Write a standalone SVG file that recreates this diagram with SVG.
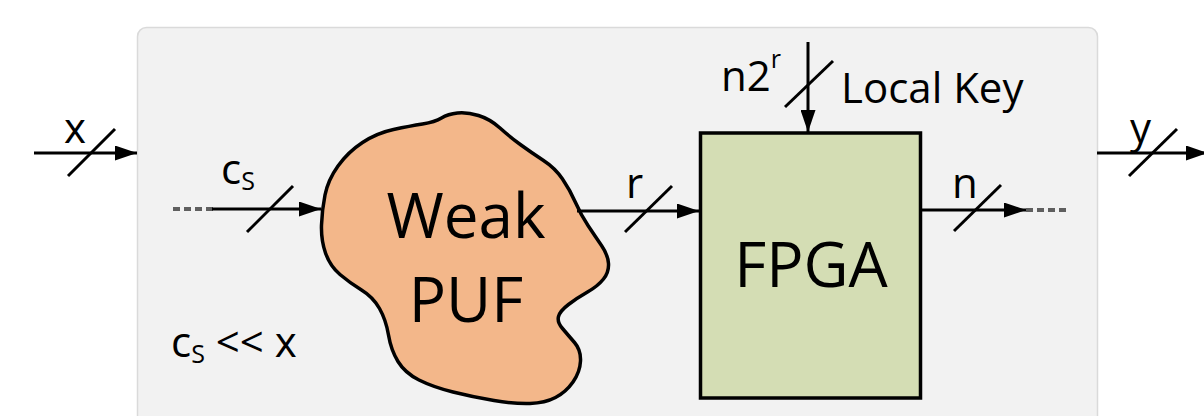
<svg xmlns="http://www.w3.org/2000/svg" width="1204" height="416" viewBox="0 0 1204 416">
<style>
text{font-family:"Open Sans","Liberation Sans",sans-serif;fill:#000}
.lbl{font-size:42px}
.big{font-size:62px}
.sub{font-size:25px}
.wire{stroke:#000;stroke-width:3;fill:none}
.dot{stroke:#5f5f5f;stroke-width:4;stroke-dasharray:7 4;fill:none}
</style>
<defs>
<marker id="ah" markerUnits="userSpaceOnUse" markerWidth="23" markerHeight="15" refX="22" refY="7.5" orient="auto">
<path d="M0,0 L22,7.5 L0,15 Z" fill="#000"/>
</marker>
</defs>
<rect id="panel" x="137.5" y="27.5" width="960" height="420" rx="9" fill="#f2f2f2" stroke="#dadada" stroke-width="1.5"/>
<g id="puf">
<path d="M 321.5,225 Q 322,210 325,195 Q 328,180 338,166 Q 348,152 362.5,142.5 Q 377,133 393.5,129.5 Q 410,126 422.5,124 Q 435,122 441.5,118 Q 448,114 457.5,113 Q 467,112 478.5,115.5 Q 490,119 500,128 Q 510,137 521,145 Q 532,153 543.5,160.5 Q 555,168 562.5,179 Q 570,190 575.5,202.5 Q 581,215 588,225.5 Q 595,236 601.5,245.5 Q 608,255 608.5,263.5 Q 609,272 603.5,279 Q 598,286 587.5,292 Q 577,298 568.5,304.5 Q 560,311 558.5,316.5 Q 557,322 562.5,328.5 Q 568,335 574.5,342.5 Q 581,350 580.5,361 Q 580,372 573,382 Q 566,392 555.5,397.5 Q 545,403 530,403.5 Q 515,404 494,400.5 Q 473,397 453,392 Q 433,387 419,380 Q 405,373 398,361.5 Q 391,350 388.5,335 Q 386,320 379.5,308.5 Q 373,297 361.5,290 Q 350,283 340,274.5 Q 330,266 325.5,253 Q 321,240 321.5,225 Z" fill="#f3b78a" stroke="#000" stroke-width="3.5"/>
<text class="big" x="466" y="238" text-anchor="middle">Weak</text>
<text class="big" x="466" y="322" text-anchor="middle">PUF</text>
</g>
<g id="fpga">
<rect x="700.5" y="133" width="220" height="265" fill="#d4ddb4" stroke="#000" stroke-width="3.5"/>
<text class="big" x="811" y="287" text-anchor="middle">FPGA</text>
</g>
<g id="connectors">
<line class="wire" x1="34" y1="153" x2="137" y2="153" marker-end="url(#ah)"/>
<line class="wire" x1="68" y1="176" x2="115" y2="129"/>
<line class="dot" x1="173" y1="209" x2="213" y2="209"/>
<line class="wire" x1="212" y1="209" x2="321" y2="209" marker-end="url(#ah)"/>
<line class="wire" x1="247" y1="232" x2="293" y2="186"/>
<line class="wire" x1="577" y1="211" x2="699" y2="211" marker-end="url(#ah)"/>
<line class="wire" x1="625" y1="232" x2="672" y2="186"/>
<line class="wire" x1="808" y1="42" x2="808" y2="132" marker-end="url(#ah)"/>
<line class="wire" x1="785" y1="107" x2="833" y2="61"/>
<line class="wire" x1="922" y1="210" x2="1026" y2="210" marker-end="url(#ah)"/>
<line class="dot" x1="1026" y1="210" x2="1068" y2="210"/>
<line class="wire" x1="954" y1="231" x2="1001" y2="185"/>
<line class="wire" x1="1097" y1="153" x2="1208" y2="153" marker-end="url(#ah)"/>
<line class="wire" x1="1129" y1="176" x2="1177" y2="129"/>
</g>
<g id="labels">
<text class="lbl" x="64" y="143">x</text>
<text class="lbl" x="221" y="184">c<tspan class="sub" dy="6">S</tspan></text>
<text class="lbl" x="626" y="198">r</text>
<text class="lbl" x="721" y="91">n2<tspan class="sub" dy="-23">r</tspan></text>
<text class="lbl" x="841" y="103">Local Key</text>
<text class="lbl" x="952" y="198">n</text>
<text class="lbl" x="1130" y="143">y</text>
<text class="lbl" x="171" y="357">c<tspan class="sub" dy="6">S</tspan><tspan dy="-6"> &lt;&lt; x</tspan></text>
</g>
</svg>
